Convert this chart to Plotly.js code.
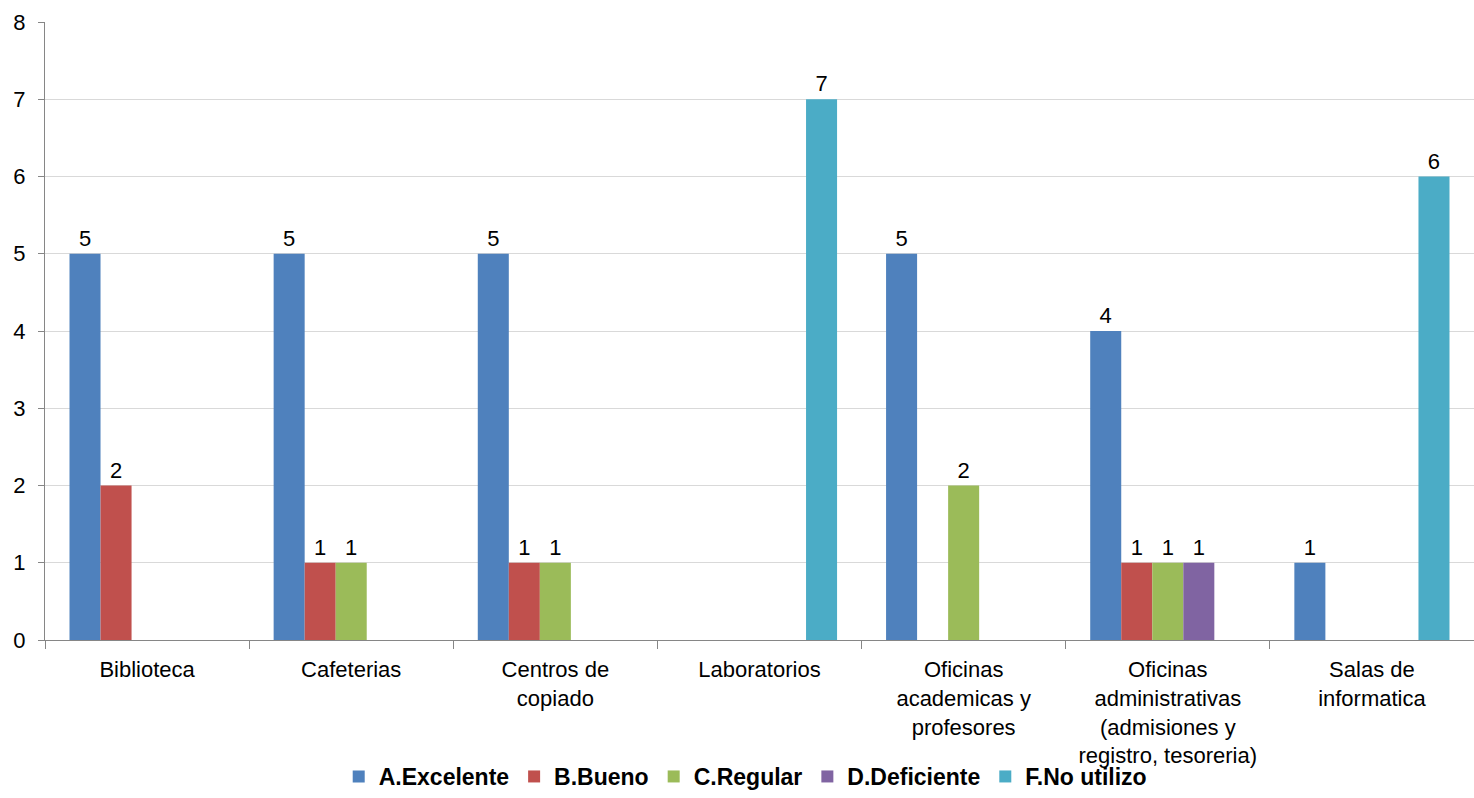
<!DOCTYPE html>
<html>
<head>
<meta charset="utf-8">
<script src="https://cdn.plot.ly/plotly-3.0.1.min.js"></script>
<style>html,body{margin:0;padding:0;background:#fff;}#chart{width:1474px;height:798px;}</style>
</head>
<body>
<div id="chart"></div>
<script>
const categories = [
  "Biblioteca",
  "Cafeterias",
  "Centros de<br>copiado",
  "Laboratorios",
  "Oficinas<br>academicas y<br>profesores",
  "Oficinas<br>administrativas<br>(admisiones y<br>registro, tesoreria)",
  "Salas de<br>informatica"
];
const seriesNames = ["A.Excelente", "B.Bueno", "C.Regular", "D.Deficiente", "F.No utilizo"];
const excelente  = [5, 5, 5, 0, 5, 4, 1];
const bueno      = [2, 1, 1, 0, 0, 1, 0];
const regular    = [0, 1, 1, 0, 2, 1, 0];
const deficiente = [0, 0, 0, 0, 0, 1, 0];
const noUtilizo  = [0, 0, 0, 7, 0, 0, 6];
const yTicks = [0, 1, 2, 3, 4, 5, 6, 7, 8];

const colors = ["#4F81BD", "#C0504D", "#9BBB59", "#8064A2", "#4BACC6"];
const allSeries = [excelente, bueno, regular, deficiente, noUtilizo];

const traces = allSeries.map((vals, i) => ({
  type: "bar",
  name: seriesNames[i],
  x: categories,
  y: vals,
  text: vals.map(v => v > 0 ? String(v) : ""),
  textposition: "outside",
  textfont: {family: "Liberation Sans, Arial, sans-serif", size: 22, color: "#000"},
  marker: {color: colors[i], line: {width: 0}},
  cliponaxis: false,
  hoverinfo: "x+y+name"
}));

const layout = {
  width: 1474,
  height: 798,
  margin: {l: 45, r: 0, t: 22, b: 158},
  paper_bgcolor: "#fff",
  plot_bgcolor: "#fff",
  barmode: "group",
  bargap: 0.24,
  bargroupgap: 0,
  font: {family: "Liberation Sans, Arial, sans-serif", size: 21, color: "#000"},
  showlegend: true,
  legend: {
    orientation: "h",
    xref: "paper",
    x: 0.49, xanchor: "center",
    yref: "container",
    y: -0.008, yanchor: "bottom",
    bgcolor: "rgba(0,0,0,0)",
    font: {family: "Liberation Sans, Arial, sans-serif", size: 23, color: "#000", weight: "bold"},
    traceorder: "normal",
    itemwidth: 30
  },
  xaxis: {
    type: "category",
    automargin: false,
    tickson: "boundaries",
    ticks: "outside",
    ticklen: 8,
    tickcolor: "#868686",
    tickwidth: 1,
    showline: true,
    linecolor: "#868686",
    linewidth: 1,
    showgrid: false,
    tickangle: 0,
    ticklabelstandoff: 10,
    tickfont: {size: 22},
    fixedrange: true
  },
  yaxis: {
    range: [0, 8],
    automargin: false,
    tickvals: yTicks,
    ticktext: yTicks.map(String),
    ticks: "outside",
    ticklen: 6,
    tickcolor: "#868686",
    showline: true,
    linecolor: "#868686",
    linewidth: 1,
    showgrid: true,
    gridcolor: "#D9D9D9",
    gridwidth: 1,
    zeroline: false,
    ticklabelstandoff: 8,
    tickfont: {size: 22},
    fixedrange: true
  }
};

Plotly.newPlot("chart", traces, layout, {displayModeBar: false, responsive: false});
</script>
</body>
</html>
